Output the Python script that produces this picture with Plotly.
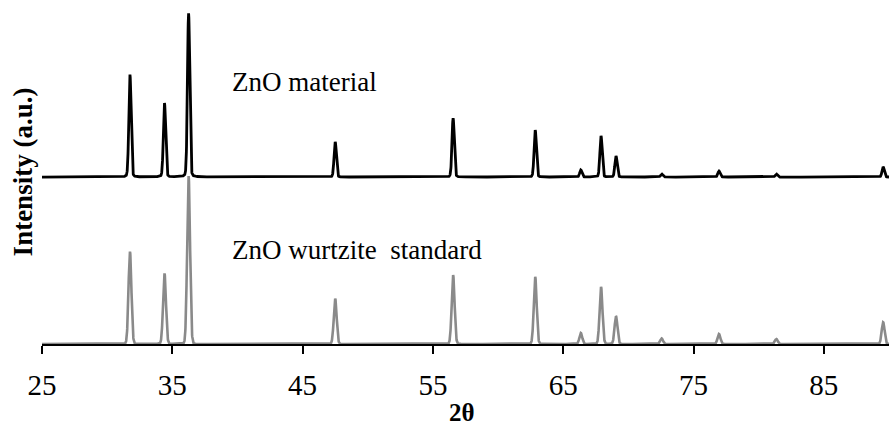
import numpy as np
import plotly.graph_objects as go

# Peak positions (2θ) and relative intensities
peak_pos = [31.75, 34.4, 36.25, 47.5, 56.55, 62.85, 66.35, 67.9, 69.05, 72.55, 76.95, 81.35, 89.55]
standard_int = [55, 42, 100, 27, 41, 40, 6.5, 34, 16.5, 3.3, 6, 3, 13]
material_int = [61, 44, 97.5, 21, 35, 28, 4.2, 24.5, 12.5, 1.8, 3.6, 1.8, 6]
material_offset = 99.4

x_ticks = [25, 35, 45, 55, 65, 75, 85]

SERIF = "Times New Roman"
SERIF_B = "Liberation Serif"

grid = np.arange(25, 90.001, 0.01)
sig_std = 0.11
sig_mat = 0.085


def profile(pos, ints, sig, tail):
    y = np.zeros_like(grid)
    for p, h in zip(pos, ints):
        g = np.exp(-0.5 * ((grid - p) / sig) ** 2)
        lor = 1.0 / (1.0 + ((grid - p) / (sig * 1.5)) ** 2)
        y += h * ((1 - tail) * g + tail * lor)
    return y


y_std = profile(peak_pos, standard_int, sig_std, 0.02)
y_mat = profile(peak_pos, material_int, sig_mat, 0.08) + material_offset

fig = go.Figure()
fig.add_trace(go.Scatter(x=grid, y=y_std, mode="lines",
                         line=dict(color="#8a8a8a", width=2.6), hoverinfo="skip"))
fig.add_trace(go.Scatter(x=grid, y=y_mat, mode="lines",
                         line=dict(color="#000000", width=2.8), hoverinfo="skip"))

fig.add_annotation(x=39.45, y=156, xref="x", yref="y", text="ZnO material",
                   showarrow=False, xanchor="left", yanchor="middle",
                   font=dict(family=SERIF, size=27, color="black"))
fig.add_annotation(x=39.4, y=55.7, xref="x", yref="y", text="ZnO wurtzite&nbsp; standard",
                   showarrow=False, xanchor="left", yanchor="middle",
                   font=dict(family=SERIF, size=27, color="black"))
# x-axis title
fig.add_annotation(x=0.496, y=0, xref="paper", yref="paper", text="<b>2θ</b>",
                   showarrow=False, xanchor="center", yanchor="top", yshift=-53,
                   font=dict(family=SERIF_B, size=25, color="black"))

fig.update_layout(
    width=889, height=427,
    margin=dict(l=42, r=0, t=0, b=83),
    paper_bgcolor="white", plot_bgcolor="white",
    showlegend=False,
    font=dict(family=SERIF, color="black"),
    xaxis=dict(range=[25, 90], tickmode="array", tickvals=x_ticks,
               ticktext=[str(v) for v in x_ticks], automargin=False,
               showgrid=False, zeroline=False, showline=True, linecolor="black",
               linewidth=2, ticks="outside", ticklen=8, tickwidth=2, tickcolor="black",
               ticklabelstandoff=6,
               tickfont=dict(family=SERIF, size=29, color="black")),
    yaxis=dict(range=[0, 204.8], showgrid=False, zeroline=False, showline=False,
               showticklabels=False, ticks="", automargin=False,
               title=dict(text="<b>Intensity (a.u.)</b>",
                          font=dict(family=SERIF_B, size=27), standoff=0)),
)

fig.write_html("out.html")
